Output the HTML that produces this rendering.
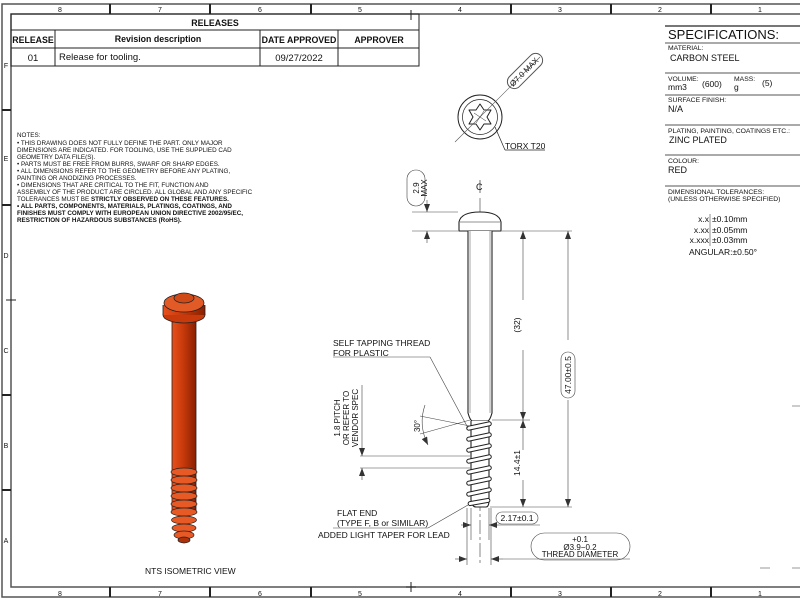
<!DOCTYPE html>
<html><head><meta charset="utf-8"><style>
html,body{margin:0;padding:0;background:#fff}
svg{display:block}
text{font-family:"Liberation Sans",sans-serif;fill:#111}
</style></head><body>
<svg width="800" height="600" viewBox="0 0 800 600" xmlns="http://www.w3.org/2000/svg">
<defs>
<linearGradient id="rg" x1="0" x2="1">
<stop offset="0" stop-color="#e8501c"/><stop offset="0.45" stop-color="#c83a0c"/><stop offset="1" stop-color="#8a2000"/>
</linearGradient>
<marker id="ar" markerWidth="8" markerHeight="6" refX="8" refY="3" orient="auto" markerUnits="userSpaceOnUse"><path d="M0,0 L8,3 L0,6z" fill="#333"/></marker>
</defs>
<!-- frames -->
<g fill="none" stroke="#555">
<path d="M800,4 H2 V597 H800" stroke-width="1.5"/>
<path d="M800,14 H11 V587 H800" stroke-width="1.5"/>
</g>
<g stroke="#222" stroke-width="2">
<line x1="110" y1="4" x2="110" y2="14"/><line x1="210" y1="4" x2="210" y2="14"/><line x1="311" y1="4" x2="311" y2="14"/>
<line x1="511" y1="4" x2="511" y2="14"/><line x1="611" y1="4" x2="611" y2="14"/><line x1="711" y1="4" x2="711" y2="14"/>
<line x1="110" y1="587" x2="110" y2="597"/><line x1="210" y1="587" x2="210" y2="597"/><line x1="311" y1="587" x2="311" y2="597"/>
<line x1="511" y1="587" x2="511" y2="597"/><line x1="611" y1="587" x2="611" y2="597"/><line x1="711" y1="587" x2="711" y2="597"/>
<line x1="2" y1="110" x2="11" y2="110"/><line x1="2" y1="205" x2="11" y2="205"/><line x1="2" y1="395" x2="11" y2="395"/><line x1="2" y1="490" x2="11" y2="490"/>
</g>
<g stroke="#222" stroke-width="1">
<line x1="411" y1="10" x2="411" y2="20"/><line x1="406" y1="14" x2="416" y2="14"/>
<line x1="411" y1="582" x2="411" y2="592"/><line x1="406" y1="587" x2="416" y2="587"/>
<line x1="6" y1="300" x2="16" y2="300"/>
</g>
<g font-size="7" text-anchor="middle">
<text x="60" y="12">8</text><text x="160" y="12">7</text><text x="260" y="12">6</text><text x="360" y="12">5</text><text x="460" y="12">4</text><text x="560" y="12">3</text><text x="660" y="12">2</text><text x="760" y="12">1</text>
<text x="60" y="596">8</text><text x="160" y="596">7</text><text x="260" y="596">6</text><text x="360" y="596">5</text><text x="460" y="596">4</text><text x="560" y="596">3</text><text x="660" y="596">2</text><text x="760" y="596">1</text>
<text x="6" y="68">F</text><text x="6" y="161">E</text><text x="6" y="258">D</text><text x="6" y="353">C</text><text x="6" y="448">B</text><text x="6" y="543">A</text>
</g>
<!-- releases table -->
<g fill="none" stroke="#222" stroke-width="1">
<rect x="11" y="14" width="408" height="52"/>
<line x1="11" y1="30" x2="419" y2="30"/><line x1="11" y1="48" x2="419" y2="48"/>
<line x1="55" y1="30" x2="55" y2="66"/><line x1="260" y1="30" x2="260" y2="66"/><line x1="338" y1="30" x2="338" y2="66"/>
</g>
<g font-size="8.8" text-anchor="middle" font-weight="bold">
<text x="215" y="26">RELEASES</text><text x="33" y="43">RELEASE</text><text x="158" y="42">Revision description</text><text x="299" y="43">DATE APPROVED</text><text x="379" y="43">APPROVER</text>
</g>
<g font-size="9.5"><text x="33" y="61" text-anchor="middle">01</text><text x="59" y="60">Release for tooling.</text><text x="299" y="61" text-anchor="middle">09/27/2022</text></g>
<!-- notes -->
<g font-size="6.3">
<text x="17" y="137">NOTES:</text>
<text x="17" y="145">•       THIS DRAWING DOES NOT FULLY DEFINE THE PART. ONLY MAJOR</text>
<text x="17" y="152">DIMENSIONS ARE INDICATED. FOR TOOLING, USE THE SUPPLIED CAD</text>
<text x="17" y="159">GEOMETRY DATA FILE(S).</text>
<text x="17" y="166">•       PARTS MUST BE FREE FROM BURRS, SWARF OR SHARP EDGES.</text>
<text x="17" y="173">•       ALL DIMENSIONS REFER TO THE GEOMETRY BEFORE ANY PLATING,</text>
<text x="17" y="180">PAINTING OR ANODIZING PROCESSES.</text>
<text x="17" y="187">•       DIMENSIONS THAT ARE CRITICAL TO THE FIT, FUNCTION AND</text>
<text x="17" y="194">ASSEMBLY OF THE PRODUCT ARE CIRCLED. ALL GLOBAL AND ANY SPECIFIC</text>
<text x="17" y="201">TOLERANCES MUST BE <tspan font-weight="bold">STRICTLY OBSERVED ON THESE FEATURES.</tspan></text>
<g font-weight="bold"><text x="17" y="208">•       ALL PARTS, COMPONENTS, MATERIALS, PLATINGS, COATINGS, AND</text>
<text x="17" y="215">FINISHES MUST COMPLY WITH EUROPEAN UNION DIRECTIVE 2002/95/EC,</text>
<text x="17" y="222">RESTRICTION OF HAZARDOUS SUBSTANCES (RoHS).</text></g>
</g>
<!-- specs -->
<g stroke="#777" stroke-width="1.2">
<line x1="665" y1="26" x2="800" y2="26" stroke-width="2"/>
<line x1="665" y1="43" x2="800" y2="43"/><line x1="665" y1="73" x2="800" y2="73"/><line x1="665" y1="95" x2="800" y2="95"/>
<line x1="665" y1="125" x2="800" y2="125"/><line x1="665" y1="155" x2="800" y2="155"/><line x1="665" y1="186" x2="800" y2="186"/>
<line x1="710" y1="214" x2="710" y2="246" stroke-width="0.8"/>
</g>
<g font-size="6.8" fill="#222">
<text x="668" y="39" font-size="13">SPECIFICATIONS:</text>
<text x="668" y="50">MATERIAL:</text><text x="670" y="61" font-size="9">CARBON STEEL</text>
<text x="668" y="81">VOLUME:</text><text x="668" y="90" font-size="8.5">mm3</text><text x="702" y="87" font-size="8.5">(600)</text>
<text x="734" y="81">MASS:</text><text x="734" y="90" font-size="8.5">g</text><text x="762" y="86" font-size="8.5">(5)</text>
<text x="668" y="102">SURFACE FINISH:</text><text x="668" y="112" font-size="9">N/A</text>
<text x="668" y="133">PLATING, PAINTING, COATINGS ETC.:</text><text x="669" y="143" font-size="9">ZINC PLATED</text>
<text x="668" y="163">COLOUR:</text><text x="668" y="173" font-size="9">RED</text>
<text x="668" y="194">DIMENSIONAL TOLERANCES:</text><text x="668" y="201">(UNLESS OTHERWISE SPECIFIED)</text>
<g font-size="8.5"><text x="709" y="222" text-anchor="end">x.x</text><text x="712" y="222">±0.10mm</text>
<text x="709" y="233" text-anchor="end">x.xx</text><text x="712" y="233">±0.05mm</text>
<text x="709" y="243" text-anchor="end">x.xxx</text><text x="712" y="243">±0.03mm</text>
<text x="689" y="255">ANGULAR:±0.50°</text></g>
</g>
<g stroke="#999"><line x1="792" y1="406" x2="800" y2="406"/><line x1="760" y1="568" x2="770" y2="568"/><line x1="792" y1="568" x2="800" y2="568"/></g>
<!-- torx view -->
<g fill="none" stroke="#222" stroke-width="1">
<circle cx="480" cy="117" r="22"/><circle cx="480" cy="117" r="17.5" stroke-width="0.7"/>
<path d="M480,104 L484,110 L491,110 L487,117 L491,124 L484,124 L480,130 L476,124 L469,124 L473,117 L469,110 L476,110 Z" stroke-linejoin="round"/>
<line x1="455" y1="142" x2="540" y2="57" stroke-width="0.6" stroke="#555"/>
<line x1="495" y1="127" x2="505" y2="150" stroke-width="0.7"/><line x1="505" y1="150" x2="545" y2="150" stroke-width="0.7"/>
<line x1="474" y1="113" x2="486" y2="121" stroke-width="0.5"/><line x1="476" y1="123" x2="484" y2="111" stroke-width="0.5"/>
<rect x="-22" y="-7" width="44" height="14" rx="7" transform="translate(525,71) rotate(-45)" stroke="#555"/>
</g>
<text font-size="8" text-anchor="middle" transform="translate(526,74) rotate(-45)">Ø7.0 MAX</text>
<text x="505" y="149" font-size="8.5">TORX T20</text>
<!-- centerline -->
<line x1="480" y1="198" x2="480" y2="565" stroke="#555" stroke-width="0.7" stroke-dasharray="14,3,3,3"/>
<text x="476" y="190" font-size="9">C</text><line x1="480" y1="180" x2="480" y2="193" stroke="#333" stroke-width="0.7"/>
<!-- screw side view -->
<g fill="#fff" stroke="#222" stroke-width="1.1">
<path d="M459,231 L459,222 Q461,212 480,212 Q499,212 501,222 L501,231 Z"/>
<line x1="460" y1="222" x2="500" y2="222" stroke-width="0.6"/>
<path d="M468,231 V413 Q470,420 472,421 H488 Q490,420 492,413 V231"/>
<line x1="470" y1="231" x2="470" y2="413" stroke-width="0.4"/><line x1="490" y1="231" x2="490" y2="413" stroke-width="0.4"/>
<path d="M471,421 V500 Q472,507 476,507 H486 Q489,507 489,500 V421" />
</g>
<g fill="#fff" stroke="#222" stroke-width="1">
<rect x="-12.5" y="-2" width="25" height="4" rx="2" transform="translate(479,426) rotate(-12)"/>
<rect x="-12.5" y="-2" width="25" height="4" rx="2" transform="translate(479,437) rotate(-12)"/>
<rect x="-12.5" y="-2" width="25" height="4" rx="2" transform="translate(479,448) rotate(-12)"/>
<rect x="-12.5" y="-2" width="25" height="4" rx="2" transform="translate(479,459) rotate(-12)"/>
<rect x="-12.5" y="-2" width="25" height="4" rx="2" transform="translate(479,470) rotate(-12)"/>
<rect x="-12.5" y="-2" width="25" height="4" rx="2" transform="translate(479,481) rotate(-12)"/>
<rect x="-12.5" y="-2" width="25" height="4" rx="2" transform="translate(479,492) rotate(-12)"/>
<rect x="-11" y="-2" width="22" height="4" rx="2" transform="translate(479,502) rotate(-10)"/>
</g>
<!-- dimensions -->
<g stroke="#444" stroke-width="0.6" fill="none">
<line x1="412" y1="212" x2="458" y2="212"/><line x1="412" y1="231" x2="458" y2="231"/>
<line x1="427" y1="200" x2="427" y2="212" marker-end="url(#ar)"/><line x1="427" y1="243" x2="427" y2="231" marker-end="url(#ar)"/>
<rect x="407" y="170" width="18" height="36" rx="9"/>
<line x1="502" y1="231" x2="572" y2="231"/><line x1="492" y1="420" x2="530" y2="420"/><line x1="490" y1="507" x2="572" y2="507"/>
<line x1="523" y1="300" x2="523" y2="231" marker-end="url(#ar)"/><line x1="523" y1="350" x2="523" y2="420" marker-end="url(#ar)"/>
<line x1="523" y1="450" x2="523" y2="420" marker-end="url(#ar)"/><line x1="523" y1="480" x2="523" y2="507" marker-end="url(#ar)"/>
<line x1="568" y1="340" x2="568" y2="231" marker-end="url(#ar)"/><line x1="568" y1="400" x2="568" y2="507" marker-end="url(#ar)"/>
<rect x="561" y="352" width="14" height="46" rx="7"/>
<line x1="471" y1="508" x2="471" y2="540"/><line x1="489" y1="508" x2="489" y2="540"/>
<line x1="461" y1="525" x2="471" y2="525" marker-end="url(#ar)"/><line x1="499" y1="525" x2="489" y2="525" marker-end="url(#ar)"/>
<line x1="499" y1="525" x2="540" y2="525"/>
<rect x="496" y="512" width="42" height="12" rx="6"/>
<line x1="467" y1="508" x2="467" y2="565"/><line x1="491" y1="508" x2="491" y2="565"/>
<line x1="455" y1="559" x2="467" y2="559" marker-end="url(#ar)"/><line x1="503" y1="559" x2="491" y2="559" marker-end="url(#ar)"/>
<line x1="503" y1="559" x2="630" y2="559"/>
<rect x="531" y="533" width="99" height="27" rx="13.5"/>
<line x1="360" y1="456" x2="470" y2="456"/><line x1="360" y1="468" x2="470" y2="468"/>
<line x1="362" y1="444" x2="362" y2="456" marker-end="url(#ar)"/><line x1="362" y1="480" x2="362" y2="468" marker-end="url(#ar)"/>
<line x1="362" y1="385" x2="362" y2="444"/>
<line x1="420" y1="416" x2="470" y2="426"/><line x1="420" y1="434" x2="470" y2="420"/>
<path d="M425,405 Q418,425 428,445" marker-end="url(#ar)"/>
<line x1="333" y1="357" x2="430" y2="357"/><line x1="430" y1="357" x2="468" y2="428"/>
<line x1="333" y1="528" x2="428" y2="528"/><line x1="428" y1="528" x2="468" y2="505"/>
</g>
<g font-size="8.5">
<text transform="translate(419,188) rotate(-90)" text-anchor="middle" font-size="8"><tspan x="0" y="0">2.9</tspan><tspan x="0" y="8">MAX</tspan></text>
<text transform="translate(520,325) rotate(-90)" text-anchor="middle">(32)</text>
<text transform="translate(571,375) rotate(-90)" text-anchor="middle">47.00±0.5</text>
<text transform="translate(520,463) rotate(-90)" text-anchor="middle">14.4±1</text>
<text x="517" y="521" text-anchor="middle">2.17±0.1</text>
<text x="580" y="542" text-anchor="middle" font-size="8">+0.1</text>
<text x="580" y="550" text-anchor="middle" font-size="8">Ø3.9−0.2</text>
<text x="580" y="557" text-anchor="middle" font-size="8">THREAD DIAMETER</text>
<text transform="translate(420,426) rotate(-90)" text-anchor="middle" font-size="8">30°</text>
<text transform="translate(340,418) rotate(-90)" text-anchor="middle" font-size="8"><tspan x="0" y="0">1.8 PITCH</tspan><tspan x="0" y="9">OR REFER TO</tspan><tspan x="0" y="18">VENDOR SPEC</tspan></text>
<text x="333" y="346">SELF TAPPING THREAD</text><text x="333" y="356">FOR PLASTIC</text>
<text x="337" y="516">FLAT END</text><text x="337" y="526">(TYPE F, B or SIMILAR)</text>
<text x="318" y="538">ADDED LIGHT TAPER FOR LEAD</text>
<text x="145" y="574">NTS ISOMETRIC VIEW</text>
</g>
<!-- isometric screw -->
<g stroke="#222" stroke-width="0.8">
<rect x="172" y="322" width="24" height="190" fill="url(#rg)"/>
<ellipse cx="184" cy="315" rx="21" ry="8" fill="#c83a0c"/>
<rect x="163" y="305" width="42" height="10" fill="url(#rg)" stroke="none"/>
<line x1="163" y1="305" x2="163" y2="315"/><line x1="205" y1="305" x2="205" y2="315"/>
<ellipse cx="184" cy="303" rx="20" ry="9" fill="#e25a25"/>
<ellipse cx="184" cy="298" rx="10" ry="5" fill="#d04a18"/>
</g>
<g stroke="#222" stroke-width="0.7" fill="#e85a25">
<ellipse cx="184" cy="472" rx="13" ry="4"/><ellipse cx="184" cy="480" rx="13" ry="4"/><ellipse cx="184" cy="488" rx="13" ry="4"/>
<ellipse cx="184" cy="496" rx="13" ry="4"/><ellipse cx="184" cy="504" rx="13" ry="4"/><ellipse cx="184" cy="512" rx="13" ry="4"/>
<ellipse cx="184" cy="520" rx="12.5" ry="4"/><ellipse cx="184" cy="528" rx="12" ry="4"/><ellipse cx="184" cy="535" rx="10" ry="4"/>
<ellipse cx="184" cy="540" rx="6" ry="3" fill="#b03008"/>
</g>
</svg>
</body></html>
